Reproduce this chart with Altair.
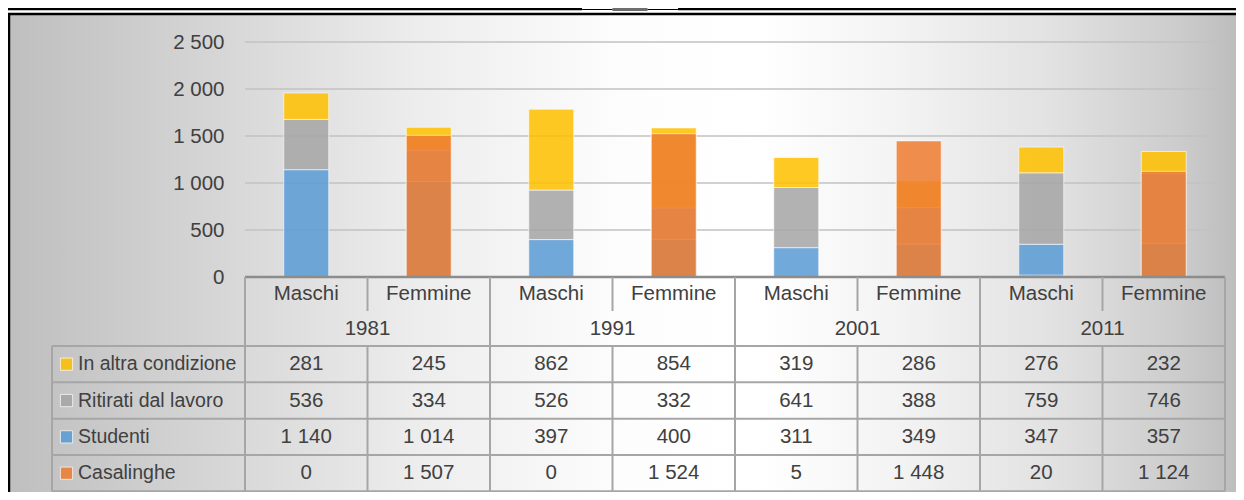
import altair as alt
import pandas as pd

# ---------------- data ----------------
years = ["1981", "1991", "2001", "2011"]
sexes = ["Maschi", "Femmine"]
series = ["In altra condizione", "Ritirati dal lavoro", "Studenti", "Casalinghe"]
colors = ["#FFC000", "#A5A5A5", "#5B9BD5", "#ED7D31"]

in_altra = [281, 245, 862, 854, 319, 286, 276, 232]
ritirati = [536, 334, 526, 332, 641, 388, 759, 746]
studenti = [1140, 1014, 397, 400, 311, 349, 347, 357]
casalinghe = [0, 1507, 0, 1524, 5, 1448, 20, 1124]

y_ticks = [0, 500, 1000, 1500, 2000, 2500]

# ---------------- tables ----------------
keys = [f"{y} {s}" for y in years for s in sexes]
cat = pd.DataFrame({"key": keys,
                    "year": [y for y in years for s in sexes],
                    "sex": [s for y in years for s in sexes]})
values = {"In altra condizione": in_altra, "Ritirati dal lavoro": ritirati,
          "Studenti": studenti, "Casalinghe": casalinghe}
stack_rank = {"Studenti": 0, "Ritirati dal lavoro": 1, "In altra condizione": 2, "Casalinghe": 3}
rows = []
for s in series:
    for i, k in enumerate(keys):
        rows.append({"key": k, "series": s, "value": values[s][i], "ord": stack_rank[s]})
long = pd.DataFrame(rows)
stack_df = long[long.series != "Casalinghe"]
casa_df = long[long.series == "Casalinghe"]
grid_df = pd.DataFrame({"v": y_ticks[1:]})
year_df = pd.DataFrame({"year": years})
leg_df = pd.DataFrame({"series": series})
one = pd.DataFrame({"a": [0]})

# ---------------- style ----------------
FONT = "Liberation Sans, Arial, sans-serif"
TXT = "#404040"
FS = 20.5
W, H = 980, 235
LINE = "#a6a6a6"

xscale = alt.Scale(domain=keys, paddingInner=0.633, paddingOuter=0.3165)
yscale = alt.Scale(domain=[0, 2500], nice=False, zero=True)
cscale = alt.Scale(domain=series, range=colors)
rowscale = alt.Scale(type="point", domain=series, range=[322.2, 431.2], padding=0)
fmt = "replace(format(datum.value, ','), ',', ' ')"


def hline(y, x1, x2, color=LINE, w=2.0):
    return alt.Chart(one).mark_rule(color=color, strokeWidth=w).encode(
        y=alt.value(y), x=alt.value(x1), x2=alt.value(x2))


def vline(x, y1, y2, color=LINE, w=2.0):
    return alt.Chart(one).mark_rule(color=color, strokeWidth=w).encode(
        x=alt.value(x), y=alt.value(y1), y2=alt.value(y2))


# background gradient panel
bg = alt.Chart(one).mark_rect(
    fill=alt.Gradient(
        gradient="linear", x1=0, x2=1, y1=0, y2=0,
        stops=[
            alt.GradientStop(offset=0.0, color="#bfbfbf"),
            alt.GradientStop(offset=0.155, color="#d4d4d4"),
            alt.GradientStop(offset=0.334, color="#ededed"),
            alt.GradientStop(offset=0.5, color="#fdfdfd"),
            alt.GradientStop(offset=0.61, color="#ffffff"),
            alt.GradientStop(offset=0.726, color="#f3f3f3"),
            alt.GradientStop(offset=0.848, color="#e2e2e2"),
            alt.GradientStop(offset=0.954, color="#cccccc"),
            alt.GradientStop(offset=1.0, color="#bdbdbd"),
        ])
).encode(x=alt.value(-235), x2=alt.value(991), y=alt.value(-27), y2=alt.value(450))

frame = [
    hline(-33, -237, 337, "#000000", 2.5),
    hline(-33, 433, 991, "#000000", 2.5),
    hline(-32.5, 337, 433, "#000000", 1.2),
    alt.Chart(one).mark_rect(fill="#6e6e6e", cornerRadius=2).encode(
        x=alt.value(367), x2=alt.value(403), y=alt.value(-34), y2=alt.value(-31)),
    hline(-28, -237, 991, "#000000", 2.5),
    vline(-236, -29, 450, "#000000", 2.5),
]

grid = alt.Chart(grid_df).mark_rule(color="#c2c2c2", strokeWidth=1.5).encode(
    y=alt.Y("v:Q", scale=yscale, axis=None), x=alt.value(0), x2=alt.value(W))

bars = alt.Chart(stack_df).mark_bar(
    fillOpacity=0.86, stroke="#ffffff", strokeWidth=1, strokeOpacity=0.6
).encode(
    x=alt.X("key:N", scale=xscale, sort=keys, axis=None),
    y=alt.Y("value:Q", stack="zero", scale=yscale,
            axis=alt.Axis(values=y_ticks, labelExpr=fmt, grid=False, ticks=False,
                          domain=False, labelFont=FONT, labelFontSize=FS,
                          labelColor=TXT, labelPadding=21, zindex=1, title=None)),
    color=alt.Color("series:N", scale=cscale, legend=None),
    order=alt.Order("ord:Q", sort="ascending"),
)

casa = alt.Chart(casa_df).mark_bar(
    fillOpacity=0.86, stroke="#ffffff", strokeWidth=1, strokeOpacity=0.6
).encode(
    x=alt.X("key:N", scale=xscale, sort=keys, axis=None),
    y=alt.Y("value:Q", stack=None, scale=yscale, axis=None),
    color=alt.Color("series:N", scale=cscale, legend=None),
)

# table lines
row_y = [304, 340.3, 376.7, 413, 449.3]
step = W / 8
table_lines = [hline(235, 0, W, "#8c8c8c", 2.5)]
for ry in row_y:
    table_lines.append(hline(ry, -193, W))
for k in range(9):
    if k % 2 == 0:
        table_lines.append(vline(k * step, 235, 449.3))
    else:
        table_lines.append(vline(k * step, 235, 269))
        table_lines.append(vline(k * step, 304, 449.3))
table_lines.append(vline(-193, 304, 449.3))

sex_txt = alt.Chart(cat).mark_text(font=FONT, fontSize=FS, color=TXT, baseline="middle").encode(
    x=alt.X("key:N", scale=xscale, sort=keys, axis=None), y=alt.value(252), text="sex:N")

year_txt = alt.Chart(year_df).mark_text(font=FONT, fontSize=FS, color=TXT, baseline="middle").encode(
    x=alt.X("year:N", scale=alt.Scale(domain=years, paddingInner=0, paddingOuter=0), axis=None),
    y=alt.value(287), text="year:N")

val_txt = alt.Chart(long).transform_calculate(
    label="replace(format(datum.value, ','), ',', ' ')"
).mark_text(font=FONT, fontSize=FS, color=TXT, baseline="middle").encode(
    x=alt.X("key:N", scale=xscale, sort=keys, axis=None),
    y=alt.Y("series:N", scale=rowscale, axis=None),
    text="label:N")

leg_sq = alt.Chart(leg_df).mark_square(size=150, opacity=0.86, stroke="#ffffff",
                                       strokeWidth=1, strokeOpacity=0.8).encode(
    x=alt.value(-178.5),
    y=alt.Y("series:N", scale=rowscale, axis=None),
    color=alt.Color("series:N", scale=cscale, legend=None))

leg_txt = alt.Chart(leg_df).mark_text(font=FONT, fontSize=19.5, color=TXT, align="left",
                                      baseline="middle").encode(
    x=alt.value(-167),
    y=alt.Y("series:N", scale=rowscale, axis=None),
    text="series:N")

chart = alt.layer(
    bg, *frame, grid, bars, casa, *table_lines, sex_txt, year_txt, val_txt, leg_sq, leg_txt
).resolve_scale(
    x="independent", y="independent", color="shared"
).properties(
    width=W, height=H,
    padding={"left": 237, "top": 34, "right": 11, "bottom": 215},
    autosize=alt.AutoSizeParams(type="none"),
    background="#ffffff",
).configure_view(stroke=None)

chart.save("out.html", embed_options={"renderer": "svg", "actions": False})
